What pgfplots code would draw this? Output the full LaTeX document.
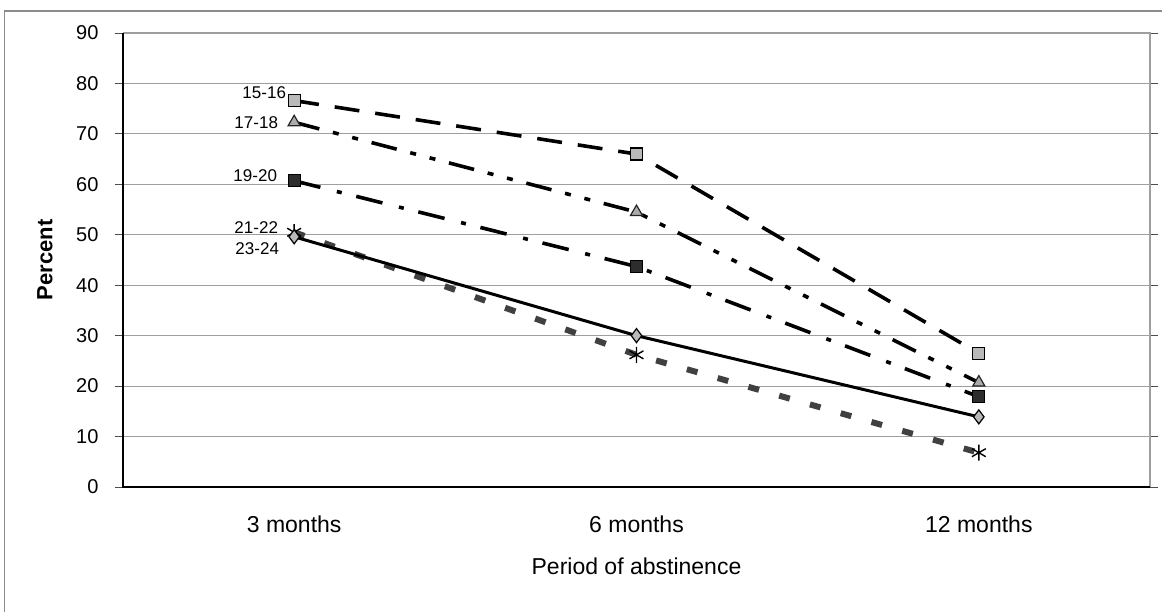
\documentclass[border=0pt]{standalone}
\usepackage{pgfplots}
\pgfplotsset{compat=1.18}
\usepackage{fontspec}
\setmainfont{Liberation Sans}

\definecolor{gridgray}{gray}{0.62}
\definecolor{framegray}{gray}{0.55}

\tikzset{serieslabel/.style={font=\fontsize{17}{19}\selectfont, anchor=east, inner sep=0pt}}

\begin{document}
\begin{tikzpicture}[x=1pt,y=1pt]
  \useasboundingbox (0,0) rectangle (1162,612);
  % outer chart frame
  \draw[framegray, line width=1.2pt] (4.5,0) -- (4.5,601) -- (1162,601);

  \begin{axis}[
      at={(123pt,125pt)}, anchor=south west,
      scale only axis,
      width=1027pt, height=454pt,
      xmin=-0.5, xmax=2.5,
      ymin=0, ymax=90,
      ytick={0,10,...,90},
      xtick={0,1,2},
      xticklabels={3 months, 6 months, 12 months},
      major x tick style={draw=none},
      extra x ticks={0.5,1.5},
      extra x tick labels={},
      extra x tick style={grid=none, major tick length=6pt,
        tick align=outside, major tick style={draw=black!60, line width=0.6pt}},
      ymajorgrids,
      major grid style={gridgray, line width=1pt},
      tick align=outside,
      major tick length=8pt,
      ytick style={draw=black!70, line width=0.8pt},
      axis line style={draw=none},
      /pgf/number format/assume math mode=true,
      yticklabel style={font=\fontsize{20}{23}\selectfont, xshift=-13pt},
      xticklabel style={font=\fontsize{23}{26}\selectfont, yshift=-17pt},
      xlabel={Period of abstinence},
      xlabel style={font=\fontsize{23}{26}\selectfont, at={(axis description cs:0.5,0)}, anchor=center, yshift=-79pt},
      clip=false,
    ]
    % plot frame: dark left and bottom, light top and right
    \draw[gridgray, line width=1.4pt] (axis cs:-0.5,90) -- (axis cs:2.5,90) -- (axis cs:2.5,0);
    \draw[black, line width=1.6pt] (axis cs:-0.5,90) -- (axis cs:-0.5,0) -- (axis cs:2.5,0);

    % y axis title
    \node[font=\fontsize{22}{26}\selectfont\bfseries, xshift=-78pt, rotate=90, anchor=center]
      at (axis description cs:0,0.5) {Percent};

    % 15-16
    \addplot[black, line width=3.6pt, dash pattern=on 25pt off 16pt,
      mark=square*, mark size=6pt, mark options={solid, fill=gray!55, draw=black, line width=1.2pt}]
      coordinates {(0,76.6) (1,66.0) (2,26.5)};
    % 17-18
    \addplot[black, line width=3.6pt, dash pattern=on 26pt off 14pt on 6pt off 14pt on 6pt off 14pt,
      mark=triangle*, mark size=7pt, mark options={solid, fill=gray!65, draw=black!85, line width=1.2pt}]
      coordinates {(0,72.3) (1,54.5) (2,20.7)};
    % 19-20
    \addplot[black, line width=3.6pt, dash pattern=on 27pt off 17pt on 5pt off 15pt,
      mark=square*, mark size=6pt, mark options={solid, fill=gray!35!black, draw=black, line width=1.2pt}]
      coordinates {(0,60.7) (1,43.7) (2,17.9)};
    % 21-22
    \addplot[black!75, line width=6pt, dash pattern=on 11pt off 21pt,
      mark=asterisk, mark size=8pt, mark options={solid, draw=black, line width=1.4pt}]
      coordinates {(0,50.5) (1,26.2) (2,6.8)};
    % 23-24
    \addplot[black, line width=3pt,
      mark=diamond*, mark size=7pt, mark options={solid, fill=gray!55, draw=black, line width=1.2pt}]
      coordinates {(0,49.6) (1,30.0) (2,13.9)};

    % series names beside the first points
    \node[serieslabel] at (axis cs:0,76.6) [xshift=-8pt, yshift=8pt] {15-16};
    \node[serieslabel] at (axis cs:0,72.3) [xshift=-16pt] {17-18};
    \node[serieslabel] at (axis cs:0,60.7) [xshift=-17pt, yshift=5pt] {19-20};
    \node[serieslabel] at (axis cs:0,51.5) [xshift=-16pt] {21-22};
    \node[serieslabel] at (axis cs:0,47.2) [xshift=-15pt] {23-24};
  \end{axis}
\end{tikzpicture}
\end{document}
